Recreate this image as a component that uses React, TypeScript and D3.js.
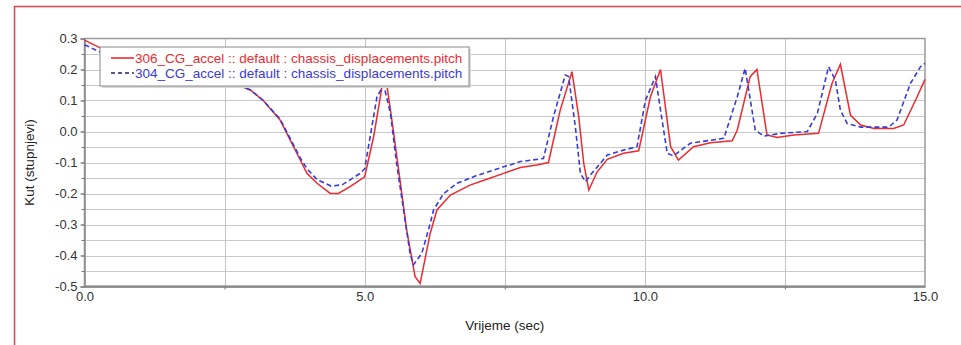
import { useEffect, useRef } from "react";
import * as d3 from "d3";

// 306_CG_accel (red, solid)
const redTime = [0, 0.28, 1.0, 2.0, 2.78, 2.96, 3.19, 3.49, 3.67, 3.85, 3.97, 4.15, 4.38, 4.53, 4.74, 5.0, 5.16, 5.31, 5.4, 5.51, 5.63, 5.75, 5.9, 5.99, 6.17, 6.29, 6.53, 6.88, 7.18, 7.48, 7.78, 8.07, 8.28, 8.49, 8.7, 8.82, 8.91, 9.0, 9.15, 9.33, 9.62, 9.89, 10.1, 10.28, 10.46, 10.6, 10.87, 11.17, 11.56, 11.65, 11.88, 12.0, 12.12, 12.18, 12.36, 12.66, 13.1, 13.34, 13.49, 13.67, 13.85, 14.09, 14.44, 14.62, 14.86, 15.0];
const redPitch = [0.295, 0.27, 0.24, 0.19, 0.147, 0.134, 0.1, 0.037, -0.027, -0.092, -0.135, -0.167, -0.199, -0.2, -0.178, -0.146, -0.017, 0.145, 0.145, 0.005, -0.156, -0.318, -0.468, -0.49, -0.328, -0.253, -0.205, -0.173, -0.154, -0.135, -0.116, -0.108, -0.1, 0.069, 0.193, 0.048, -0.103, -0.189, -0.13, -0.09, -0.07, -0.062, 0.112, 0.2, -0.049, -0.092, -0.049, -0.036, -0.03, 0.005, 0.177, 0.2, 0.059, -0.011, -0.019, -0.011, -0.006, 0.155, 0.217, 0.053, 0.021, 0.01, 0.01, 0.021, 0.112, 0.168];

// 304_CG_accel (blue, dashed)
const blueTime = [0, 0.28, 1.0, 2.0, 2.78, 2.96, 3.19, 3.49, 3.67, 3.85, 3.97, 4.15, 4.4, 4.6, 4.92, 5.0, 5.22, 5.34, 5.46, 5.57, 5.81, 5.87, 6.02, 6.17, 6.23, 6.41, 6.65, 7.0, 7.48, 7.78, 8.19, 8.37, 8.58, 8.64, 8.76, 8.85, 8.94, 9.03, 9.33, 9.62, 9.86, 10.01, 10.19, 10.28, 10.4, 10.51, 10.81, 11.41, 11.65, 11.79, 11.97, 12.12, 12.42, 12.9, 13.08, 13.28, 13.4, 13.49, 13.61, 13.85, 14.35, 14.5, 14.74, 14.92, 15.0];
const bluePitch = [0.28, 0.256, 0.23, 0.185, 0.147, 0.134, 0.1, 0.04, -0.022, -0.085, -0.12, -0.155, -0.176, -0.172, -0.135, -0.12, 0.112, 0.15, 0.059, -0.103, -0.393, -0.43, -0.393, -0.296, -0.253, -0.2, -0.167, -0.142, -0.114, -0.097, -0.087, 0.048, 0.182, 0.177, 0.015, -0.135, -0.162, -0.14, -0.076, -0.06, -0.049, 0.1, 0.177, 0.069, -0.07, -0.079, -0.038, -0.022, 0.112, 0.204, 0.005, -0.015, -0.006, 0, 0.059, 0.209, 0.166, 0.069, 0.026, 0.014, 0.014, 0.037, 0.155, 0.209, 0.22];

const xLabels = [0, 5, 10, 15];
const xGrid = [2.5, 5, 7.5, 10, 12.5];
const yLabels = [-0.5, -0.4, -0.3, -0.2, -0.1, 0, 0.1, 0.2, 0.3];
const yGrid = d3.range(-0.45, 0.3, 0.05);

const seriesNames = [
    "306_CG_accel :: default : chassis_displacements.pitch",
    "304_CG_accel :: default : chassis_displacements.pitch"
];
const seriesColors = ["#ec2a2f", "#3a3ad8"];

const App = () => {
    const ref = useRef<SVGSVGElement>(null);

    useEffect(() => {
        const svg = d3.select(ref.current);
        svg.selectAll("*").remove();
        const font = "'Liberation Sans', Arial, sans-serif";

        const left = 84.5, right = 925, top = 38.5, bottom = 286.5;
        const x = d3.scaleLinear().domain([0, 15]).range([left, right]);
        const y = d3.scaleLinear().domain([-0.5, 0.3]).range([bottom, top]);

        svg.append("rect").attr("width", 961).attr("height", 345).attr("fill", "#fff");

        // outer red frame
        svg.append("path")
            .attr("d", "M14.5,345 L14.5,6.5 L961,6.5")
            .attr("fill", "none")
            .attr("stroke", "#e8404c")
            .attr("stroke-width", 1.5);

        // grid
        svg.append("g")
            .selectAll("line")
            .data(yGrid)
            .enter()
            .append("line")
                .attr("x1", left)
                .attr("x2", right)
                .attr("y1", (d) => Math.round(y(d)) + 0.5)
                .attr("y2", (d) => Math.round(y(d)) + 0.5)
                .attr("stroke", "#c9c9c9")
                .attr("stroke-width", 1);
        svg.append("g")
            .selectAll("line")
            .data(xGrid)
            .enter()
            .append("line")
                .attr("x1", (d) => Math.round(x(d)) + 0.5)
                .attr("x2", (d) => Math.round(x(d)) + 0.5)
                .attr("y1", top)
                .attr("y2", bottom)
                .attr("stroke", "#c4c4c4")
                .attr("stroke-width", 1);

        // plot frame
        svg.append("rect")
            .attr("x", left)
            .attr("y", top)
            .attr("width", right - left)
            .attr("height", bottom - top)
            .attr("fill", "none")
            .attr("stroke", "#9a9a9a")
            .attr("stroke-width", 1.5);
        svg.append("line")
            .attr("x1", left).attr("x2", right)
            .attr("y1", bottom).attr("y2", bottom)
            .attr("stroke", "#8a8a8a")
            .attr("stroke-width", 2);

        // axes
        const yAxis = svg.append("g")
            .attr("transform", `translate(${left},0)`)
            .call(d3.axisLeft(y)
                .tickValues(yLabels)
                .tickSize(4)
                .tickPadding(3)
                .tickFormat((d) => (+d).toFixed(1)));
        const xAxis = svg.append("g")
            .attr("transform", `translate(0,${bottom})`)
            .call(d3.axisBottom(x)
                .tickValues(xLabels)
                .tickSize(0)
                .tickPadding(5)
                .tickFormat((d) => (+d).toFixed(1)));
        svg.append("g")
            .attr("transform", `translate(0,${bottom})`)
            .call(d3.axisBottom(x).tickValues([2.5, 7.5, 12.5]).tickSize(3).tickFormat(() => ""))
            .call((g) => g.select(".domain").remove());
        svg.append("g")
            .attr("transform", `translate(${left},0)`)
            .call(d3.axisLeft(y).tickValues(yGrid).tickSize(3).tickFormat(() => ""))
            .call((g) => g.select(".domain").remove());
        [yAxis, xAxis].forEach((g) => {
            g.select(".domain").attr("stroke", "#8a8a8a").attr("stroke-width", 1.5);
            g.selectAll("text")
                .attr("fill", "#333")
                .style("font-family", font)
                .style("font-size", "13px");
        });
        svg.selectAll(".tick line").attr("stroke", "#777");

        // axis titles
        svg.append("text")
            .attr("transform", `translate(34,${(top + bottom) / 2}) rotate(-90)`)
            .attr("text-anchor", "middle")
            .style("font-family", font)
            .style("font-size", "13.5px")
            .attr("fill", "#222")
            .text("Kut (stupnjevi)");
        svg.append("text")
            .attr("x", (left + right) / 2)
            .attr("y", 330)
            .attr("text-anchor", "middle")
            .style("font-family", font)
            .style("font-size", "13.5px")
            .attr("fill", "#222")
            .text("Vrijeme (sec)");

        // series
        const line = d3.line<[number, number]>()
            .x((d) => x(d[0]))
            .y((d) => y(d[1]));
        const redData = redTime.map((t, i) => [t, redPitch[i]] as [number, number]);
        const blueData = blueTime.map((t, i) => [t, bluePitch[i]] as [number, number]);
        svg.append("path")
            .datum(redData)
            .attr("fill", "none")
            .attr("stroke", seriesColors[0])
            .attr("stroke-width", 1.5)
            .attr("d", line);
        svg.append("path")
            .datum(blueData)
            .attr("fill", "none")
            .attr("stroke", seriesColors[1])
            .attr("stroke-width", 1.6)
            .attr("stroke-dasharray", "5,3")
            .attr("d", line);

        // legend
        const lg = svg.append("g").attr("transform", "translate(100,47)");
        lg.append("rect")
            .attr("x", 2).attr("y", 2)
            .attr("width", 369).attr("height", 39)
            .attr("fill", "#d8d8d8");
        lg.append("rect")
            .attr("width", 369).attr("height", 39)
            .attr("fill", "#fff")
            .attr("stroke", "#8a8a8a");
        seriesNames.forEach((name, i) => {
            const ly = 11 + i * 15;
            lg.append("line")
                .attr("x1", 11).attr("x2", 34)
                .attr("y1", ly).attr("y2", ly)
                .attr("stroke", i === 0 ? seriesColors[0] : "#22226a")
                .attr("stroke-width", 1.6)
                .attr("stroke-dasharray", i === 0 ? null : "4,3");
            lg.append("text")
                .attr("x", 35)
                .attr("y", ly + 4.5)
                .style("font-family", font)
                .style("font-size", "13.5px")
                .attr("fill", seriesColors[i])
                .text(name);
        });
    });

    return (
        <svg
            ref={ref}
            width={961}
            height={345}
            style={{ position: "absolute", left: 0, top: 0 }}
        />
    );
};

export default App;
